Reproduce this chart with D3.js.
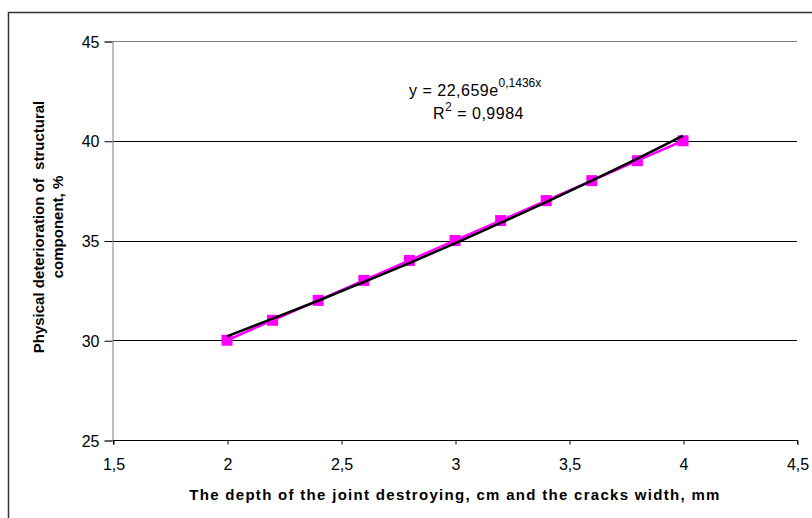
<!DOCTYPE html>
<html>
<head>
<meta charset="utf-8">
<style>
  body { margin: 0; background: #fff; }
  svg { display: block; font-family: "Liberation Sans", Arial, sans-serif; }
  .tick text { font-size: 16px; fill: #000; }
  .axisTitle { font-size: 15px; font-weight: bold; fill: #000; }
  .note { font-size: 16px; fill: #000; }
</style>
<script src="https://d3js.org/d3.v7.min.js"></script>
</head>
<body>
<svg width="812" height="518"></svg>
<script>
  // chart values
  var depth = [2, 2.2, 2.4, 2.6, 2.8, 3, 3.2, 3.4, 3.6, 3.8, 4];
  var deterioration = [30, 31, 32, 33, 34, 35, 36, 37, 38, 39, 40];
  var trendValues = [30.2, 31.08, 31.98, 32.92, 33.87, 34.86, 35.88, 36.92, 38.0, 39.11, 40.25];
  var xTicks = [1.5, 2, 2.5, 3, 3.5, 4, 4.5];
  var yTicks = [25, 30, 35, 40, 45];
  var yTitle = ["Physical deterioration of  structural", "component, %"];
  var xTitle = "The depth of the joint destroying, cm and the cracks width, mm";

  var svg = d3.select("svg");

  // outer chart frame (right/bottom edges run off the picture)
  svg.append("rect")
    .attr("x", 8.5).attr("y", 12.5)
    .attr("width", 820).attr("height", 520)
    .attr("fill", "none")
    .attr("stroke", "#333")
    .attr("stroke-width", 1.5);

  var x = d3.scaleLinear().domain([1.5, 4.5]).range([113, 797]);
  var y = d3.scaleLinear().domain([25, 45]).range([440, 41]);

  // horizontal gridlines
  svg.append("g")
    .selectAll("line")
    .data(yTicks.slice(1))
    .enter()
    .append("line")
    .attr("x1", x(1.5)).attr("x2", x(4.5))
    .attr("y1", function(d) { return Math.round(y(d)) + 0.5; })
    .attr("y2", function(d) { return Math.round(y(d)) + 0.5; })
    .attr("stroke", function(d) { return d === 45 ? "#808080" : "#000"; })
    .attr("stroke-width", 1);

  // y axis
  var yAxis = svg.append("g")
    .attr("transform", "translate(" + (x(1.5) - 0.5) + ",0.5)")
    .call(d3.axisLeft(y).tickValues(yTicks).tickSize(8).tickPadding(5)
      .tickFormat(function(d) { return d; }));
  yAxis.select(".domain").attr("stroke", "#808080");
  yAxis.selectAll(".tick line").attr("stroke", "#000");
  yAxis.selectAll("text").attr("dy", "0.35em");

  // x axis
  var xAxis = svg.append("g")
    .attr("transform", "translate(0.5," + (y(25) + 0.5) + ")")
    .call(d3.axisBottom(x).tickValues(xTicks).tickSize(4).tickPadding(14)
      .tickFormat(function(d) { return String(d).replace(".", ","); }));
  xAxis.select(".domain").attr("stroke", "#000").attr("d", "M" + x(1.5) + ",4V0H" + x(4.5) + "V4");
  xAxis.selectAll(".tick line").attr("stroke", "#000");

  // data line
  var pts = depth.map(function(d, i) { return [d, deterioration[i]]; });
  var line = d3.line()
    .x(function(d) { return x(d[0]); })
    .y(function(d) { return y(d[1]); });

  svg.append("path")
    .datum(pts)
    .attr("d", line)
    .attr("fill", "none")
    .attr("stroke", "#ff00ff")
    .attr("stroke-width", 2.5);

  svg.append("g")
    .selectAll("rect")
    .data(pts)
    .enter()
    .append("rect")
    .attr("x", function(d) { return x(d[0]) - 5.5; })
    .attr("y", function(d) { return y(d[1]) - 5.5; })
    .attr("width", 11)
    .attr("height", 11)
    .attr("fill", "#ff00ff");

  // exponential trendline
  var trend = depth.map(function(d, i) { return [d, trendValues[i]]; });
  svg.append("path")
    .datum(trend)
    .attr("d", d3.line().curve(d3.curveMonotoneX)
      .x(function(d) { return x(d[0]); })
      .y(function(d) { return y(d[1]); }))
    .attr("fill", "none")
    .attr("stroke", "#000")
    .attr("stroke-width", 2.5);

  // equation label
  var eq = svg.append("text").attr("class", "note").attr("x", 409).attr("y", 96)
    .attr("letter-spacing", 0.5);
  eq.append("tspan").text("y = 22,659e");
  eq.append("tspan").attr("dy", -9).attr("font-size", "12px").attr("letter-spacing", 0).text("0,1436x");
  var r2 = svg.append("text").attr("class", "note").attr("x", 433).attr("y", 119)
    .attr("letter-spacing", 0.5);
  r2.append("tspan").text("R");
  r2.append("tspan").attr("dy", -8).attr("font-size", "12px").text("2");
  r2.append("tspan").attr("dy", 8).text(" = 0,9984");

  // axis titles
  var yt = svg.append("text")
    .attr("class", "axisTitle")
    .attr("text-anchor", "middle")
    .attr("transform", "translate(44,227) rotate(-90)");
  yt.selectAll("tspan")
    .data(yTitle)
    .enter()
    .append("tspan")
    .attr("x", 0)
    .attr("dy", function(d, i) { return i === 0 ? 0 : 19; })
    .style("white-space", "pre")
    .text(function(d) { return d; });

  svg.append("text")
    .attr("class", "axisTitle")
    .attr("text-anchor", "middle")
    .attr("letter-spacing", 1.3)
    .attr("x", 455)
    .attr("y", 500)
    .text(xTitle);
</script>
</body>
</html>
